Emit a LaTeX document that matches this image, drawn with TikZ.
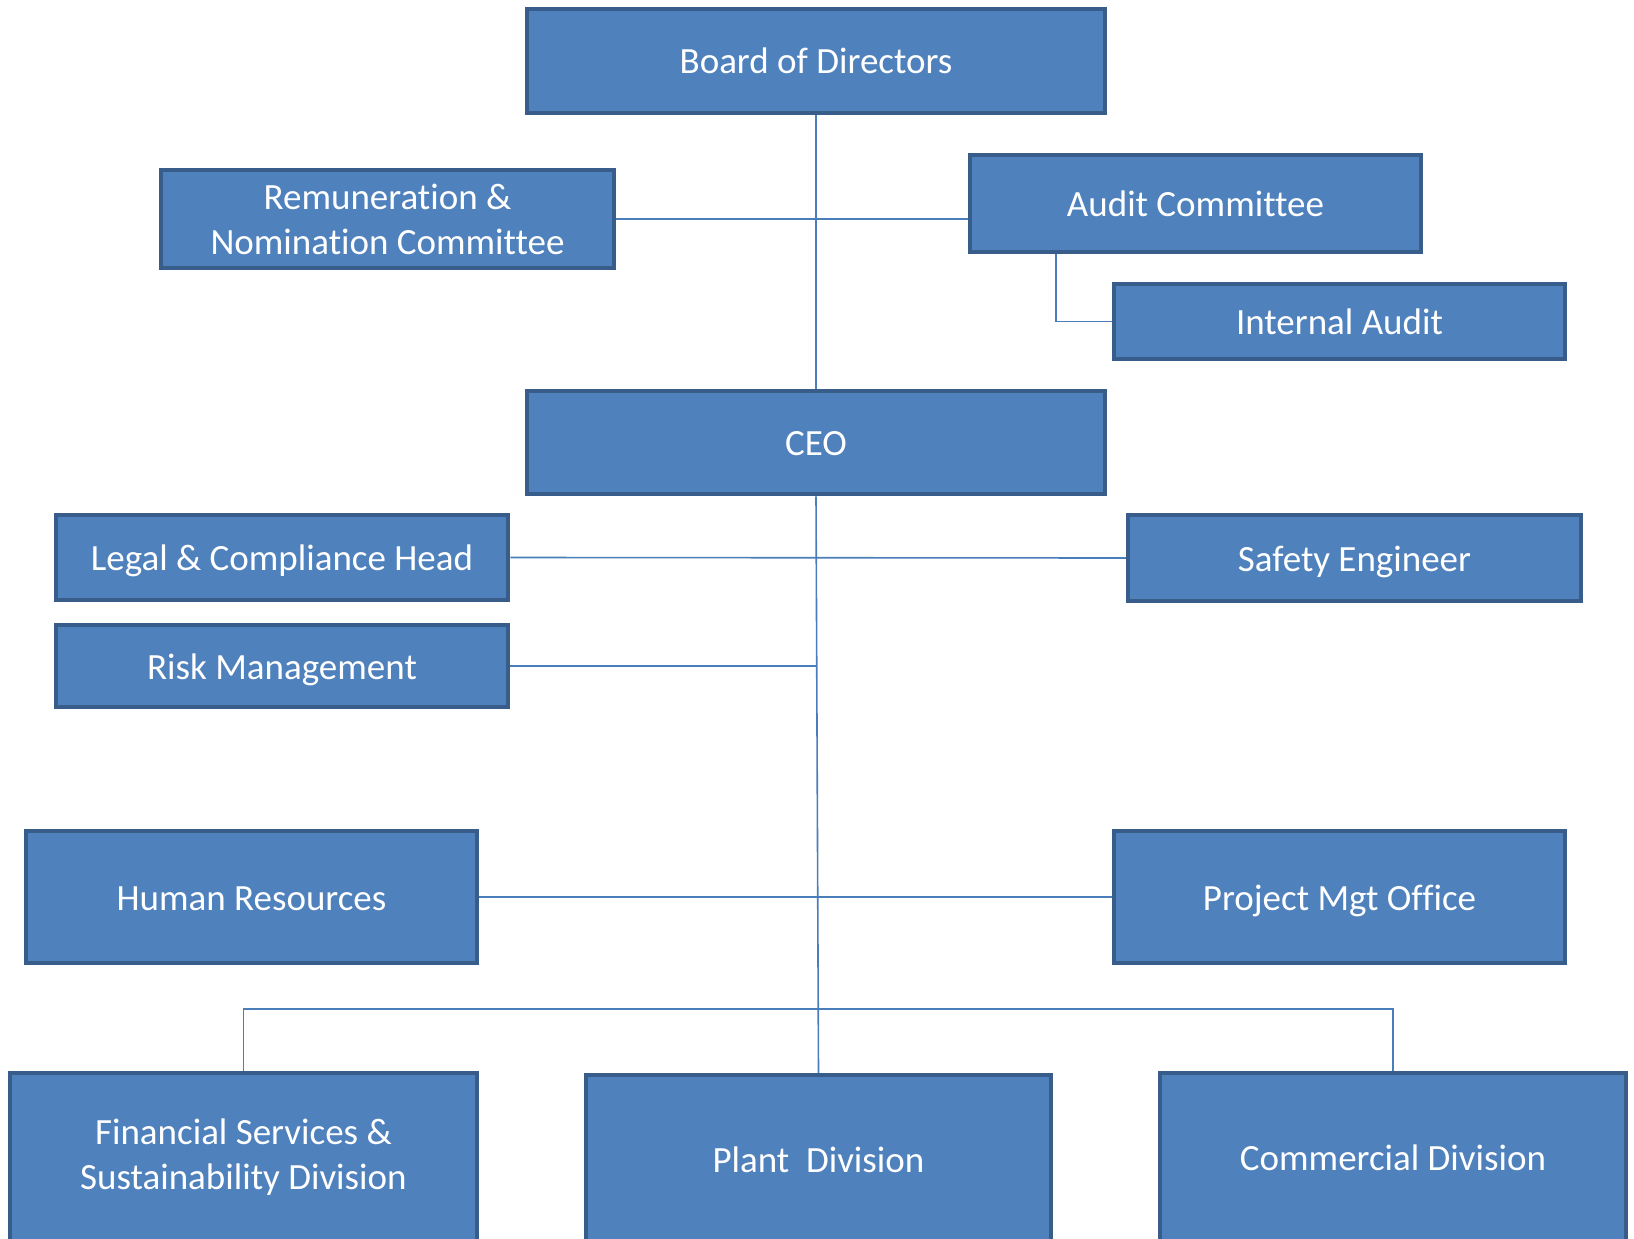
\documentclass[tikz,border=0pt]{standalone}
\usepackage{fontspec}
\setmainfont[Ligatures=NoCommon]{Carlito}
\definecolor{orgfill}{HTML}{4F81BD}
\definecolor{orgline}{HTML}{385D8A}
\definecolor{orglink}{HTML}{4A7EBB}
\begin{document}
\begin{tikzpicture}[x=1pt, y=-1pt,
  unit/.style={draw=orgline, fill=orgfill, line width=4.5pt, text=white,
    font=\fontsize{37}{45}\selectfont, align=center, inner sep=0pt},
  oneline/.style={text height=33pt, text depth=7pt},
  link/.style={draw=orglink, line width=1.6pt}]
\useasboundingbox (0,0) rectangle (1634,1239);
\clip (0,0) rectangle (1634,1239);
% board level
\node[unit, oneline, minimum width=578pt, minimum height=104pt] (board) at (816,61) {Board of Directors};
\node[unit, minimum width=453pt, minimum height=98pt] (remun) at (387.5,219) {Remuneration \&\\Nomination Committee};
\node[unit, oneline, minimum width=451pt, minimum height=97pt] (audit) at (1195.5,203.5) {Audit Committee};
\node[unit, oneline, minimum width=451pt, minimum height=75pt] (intaudit) at (1339.5,321.5) {Internal Audit};
% ceo level
\node[unit, oneline, minimum width=578pt, minimum height=103pt] (ceo) at (816,442.5) {CEO};
\node[unit, oneline, minimum width=452pt, minimum height=85pt] (legal) at (282,557.5) {Legal \& Compliance Head};
\node[unit, oneline, minimum width=453pt, minimum height=86pt] (safety) at (1354.5,558) {Safety Engineer};
\node[unit, oneline, minimum width=452pt, minimum height=82pt] (risk) at (282,666) {Risk Management};
\node[unit, oneline, minimum width=451pt, minimum height=132pt] (hr) at (251.5,897) {Human Resources};
\node[unit, oneline, minimum width=451pt, minimum height=132pt] (pmo) at (1339.5,897) {Project Mgt Office};
% divisions
\node[unit, minimum width=467pt, minimum height=168pt] (fin) at (243.5,1157) {Financial Services \&\\Sustainability Division};
\node[unit, oneline, minimum width=465pt, minimum height=168pt] (plant) at (818.5,1159) {Plant\ \ Division};
\node[unit, oneline, minimum width=466pt, minimum height=168pt] (com) at (1393,1157) {Commercial Division};
% links
\draw[link] (board.south) -- (ceo.north);
\draw[link] (remun.east) -- (remun.east -| audit.west);
\draw[link] ([xshift=-139.5pt]audit.south) |- (intaudit.west);
\draw[link] (ceo.south) -- (plant.north);
\draw[link] (legal.east) -- (safety.west);
\draw[link] (risk.east) -- (risk.east -| ceo.south);
\draw[link] (hr.east) -- (pmo.west);
\draw[link] (fin.north) -- ++(0,-62) -| (com.north);
\end{tikzpicture}
\end{document}
